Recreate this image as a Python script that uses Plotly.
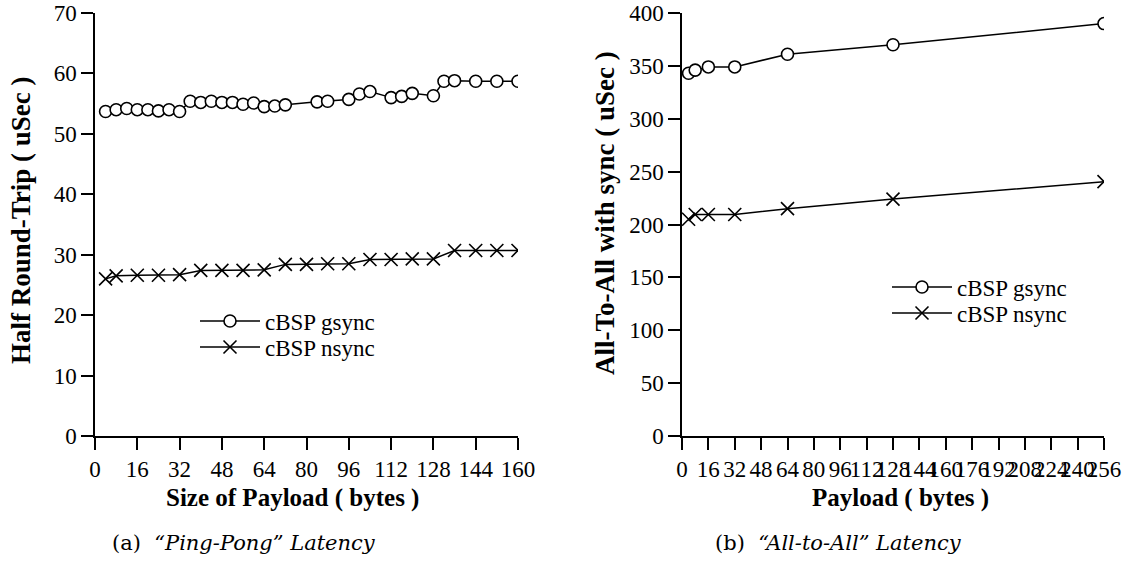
import plotly.graph_objects as go

# Left panel: "Ping-Pong" latency
pp_gsync_x = [4, 8, 12, 16, 20, 24, 28, 32, 36, 40, 44, 48, 52, 56, 60, 64, 68, 72,
              84, 88, 96, 100, 104, 112, 116, 120, 128, 132, 136, 144, 152, 160]
pp_gsync_y = [53.7, 54.0, 54.2, 54.0, 54.0, 53.8, 54.0, 53.7, 55.4, 55.2, 55.4, 55.2,
              55.2, 54.9, 55.1, 54.5, 54.6, 54.8, 55.3, 55.4, 55.7, 56.6, 57.0, 56.0,
              56.2, 56.7, 56.3, 58.7, 58.8, 58.7, 58.7, 58.7]
pp_nsync_x = [4, 8, 16, 24, 32, 40, 48, 56, 64, 72, 80, 88, 96, 104, 112, 120, 128,
              136, 144, 152, 160]
pp_nsync_y = [26.0, 26.5, 26.6, 26.6, 26.7, 27.4, 27.4, 27.4, 27.5, 28.4, 28.4, 28.5,
              28.5, 29.2, 29.2, 29.3, 29.3, 30.7, 30.7, 30.7, 30.7]

# Right panel: "All-to-All" latency
aa_x = [4, 8, 16, 32, 64, 128, 256]
aa_gsync_y = [343, 346, 349, 349, 361, 370, 390]
aa_nsync_y = [205, 209.5, 209.5, 209.5, 215, 224, 240.5]

left_xticks = list(range(0, 161, 16))
right_xticks = list(range(0, 257, 16))
left_yticks = list(range(0, 71, 10))
right_yticks = list(range(0, 401, 50))

FONT = "Liberation Serif"
BLACK = "black"
W, H = 1125, 564


def px(x):
    return x / W


def py(y):
    return 1 - y / H


circle = dict(symbol="circle", size=12, color="white", line=dict(color=BLACK, width=1.6))
cross = dict(symbol="x-thin-open", size=13, color=BLACK, line=dict(color=BLACK, width=1.6))
line = dict(color=BLACK, width=1.5)

fig = go.Figure()
fig.add_trace(go.Scatter(x=pp_gsync_x, y=pp_gsync_y, mode="lines+markers", name="cBSP gsync",
                         line=line, marker=circle, xaxis="x", yaxis="y", legend="legend"))
fig.add_trace(go.Scatter(x=pp_nsync_x, y=pp_nsync_y, mode="lines+markers", name="cBSP nsync",
                         line=line, marker=cross, xaxis="x", yaxis="y", legend="legend2"))
fig.add_trace(go.Scatter(x=aa_x, y=aa_gsync_y, mode="lines+markers", name="cBSP gsync",
                         line=line, marker=circle, xaxis="x2", yaxis="y2", legend="legend3"))
fig.add_trace(go.Scatter(x=aa_x, y=aa_nsync_y, mode="lines+markers", name="cBSP nsync",
                         line=line, marker=cross, xaxis="x2", yaxis="y2", legend="legend4"))

axis_common = dict(showgrid=False, zeroline=False, showline=True, linecolor=BLACK, linewidth=1.5,
                   ticks="outside", ticklen=12, tickwidth=1.5, tickcolor=BLACK, tickangle=0,
                   automargin=False,
                   tickfont=dict(family=FONT, size=23, color=BLACK), mirror=False)

ydom = [py(436), py(13)]


def leg(x, y):
    return dict(x=px(x), y=py(y), xanchor="left", yanchor="middle",
                font=dict(family=FONT, size=23, color=BLACK), bgcolor="rgba(0,0,0,0)",
                itemwidth=60, borderwidth=0)


fig.update_layout(
    template="none",
    width=W, height=H, margin=dict(l=0, r=0, t=0, b=0),
    paper_bgcolor="white", plot_bgcolor="white",
    font=dict(family=FONT, color=BLACK),
    xaxis=dict(axis_common, domain=[px(95), px(518)], range=[0, 160],
               tickmode="array", tickvals=left_xticks, anchor="y"),
    yaxis=dict(axis_common, domain=ydom, range=[0, 70],
               tickmode="array", tickvals=left_yticks, anchor="x"),
    xaxis2=dict(axis_common, domain=[px(682), px(1104)], range=[0, 256],
                tickmode="array", tickvals=right_xticks, anchor="y2"),
    yaxis2=dict(axis_common, domain=ydom, range=[0, 400],
                tickmode="array", tickvals=right_yticks, anchor="x2"),
    legend=leg(195, 321),
    legend2=leg(195, 347),
    legend3=leg(887, 287),
    legend4=leg(887, 313),
    showlegend=True,
)

annotations = [
    dict(text="<b>Size of Payload ( bytes )</b>", x=px(292), y=py(498),
         font=dict(family=FONT, size=25)),
    dict(text="<b>Payload ( bytes )</b>", x=px(900), y=py(498),
         font=dict(family=FONT, size=25)),
    dict(text="<b>Half Round-Trip ( uSec )</b>", x=px(21), y=py(220), textangle=-90,
         font=dict(family=FONT, size=27)),
    dict(text="<b>All-To-All with sync ( uSec )</b>", x=px(605), y=py(213), textangle=-90,
         font=dict(family=FONT, size=27)),
    dict(text="(a)  <i>\u201cPing-Pong\u201d Latency</i>", x=px(244), y=py(543),
         font=dict(family="DejaVu Serif", size=21)),
    dict(text="(b)  <i>\u201cAll-to-All\u201d Latency</i>", x=px(838), y=py(543),
         font=dict(family="DejaVu Serif", size=21)),
]
for a in annotations:
    a.update(xref="paper", yref="paper", showarrow=False, xanchor="center", yanchor="middle")
fig.update_layout(annotations=annotations)

fig.write_html("out.html", config={"displayModeBar": False},
               post_script="document.body.style.margin='0px';")
